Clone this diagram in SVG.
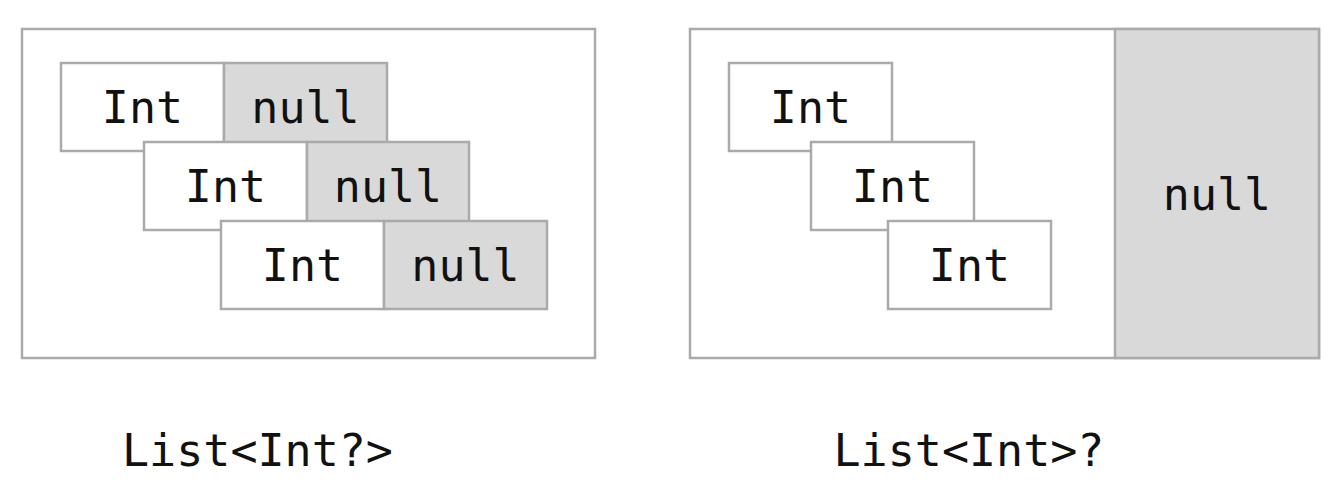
<svg xmlns="http://www.w3.org/2000/svg" width="1344" height="486" viewBox="0 0 1344 486">
<style>
.box{fill:#ffffff;stroke:#aaaaaa;stroke-width:2.5}
.nul{fill:#d9d9d9;stroke:#aaaaaa;stroke-width:2.5}
.t{font-family:"DejaVu Sans Mono","Liberation Mono",monospace;font-size:45px;fill:#111111;text-anchor:middle}
</style>
<rect width="1344" height="486" fill="#ffffff"/>
<g id="left-outer"><rect class="box" x="22" y="29" width="573" height="329"/></g>
<g id="left-row1">
<rect class="box" x="61" y="63" width="163" height="88"/><text class="t" x="142.5" y="123">Int</text>
<rect class="nul" x="224" y="63" width="163" height="88"/><text class="t" x="305.5" y="123">null</text>
</g>
<g id="left-row2">
<rect class="box" x="144" y="142" width="163" height="88"/><text class="t" x="225.5" y="202">Int</text>
<rect class="nul" x="307" y="142" width="162" height="88"/><text class="t" x="388" y="202">null</text>
</g>
<g id="left-row3">
<rect class="box" x="221" y="221" width="163" height="88"/><text class="t" x="302.5" y="281">Int</text>
<rect class="nul" x="384" y="221" width="163" height="88"/><text class="t" x="465.5" y="281">null</text>
</g>
<g id="right-outer">
<rect class="box" x="690" y="29" width="629" height="329"/>
<rect class="nul" x="1115" y="29" width="204" height="329"/><text class="t" x="1217" y="210">null</text>
</g>
<g id="right-int1"><rect class="box" x="729" y="63" width="163" height="88"/><text class="t" x="810.5" y="123">Int</text></g>
<g id="right-int2"><rect class="box" x="811" y="142" width="163" height="88"/><text class="t" x="892.5" y="202">Int</text></g>
<g id="right-int3"><rect class="box" x="888" y="221" width="163" height="88"/><text class="t" x="969.5" y="281">Int</text></g>
<g id="connectors"></g>
<g id="labels">
<text class="t" x="257.5" y="466">List&lt;Int?&gt;</text>
<text class="t" x="969" y="466">List&lt;Int&gt;?</text>
</g>
</svg>
